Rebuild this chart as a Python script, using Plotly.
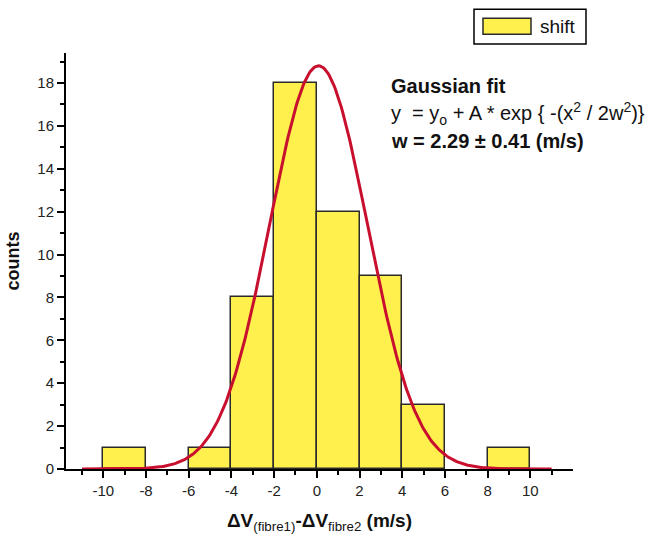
import numpy as np
import plotly.graph_objects as go

# ---- data ----
bin_centers = [-9, -5, -3, -1, 1, 3, 5, 9]
bin_counts = [1, 1, 8, 18, 12, 9, 3, 1]
bin_width = 2

# Gaussian fit parameters (y = y0 + A*exp(-(x-xc)^2 / 2w^2))
fit_y0 = 0.0
fit_A = 18.8
fit_xc = 0.08
fit_w = 2.29
fit_x_min, fit_x_max = -11, 11

x_major = [-10, -8, -6, -4, -2, 0, 2, 4, 6, 8, 10]
x_major_text = ["-10", "-8", "-6", "-4", "-2", "0", "2", "4", "6", "8", "10"]
x_minor = [-11, -9, -7, -5, -3, -1, 1, 3, 5, 7, 9, 11]
y_major = [0, 2, 4, 6, 8, 10, 12, 14, 16, 18]
y_minor = [1, 3, 5, 7, 9, 11, 13, 15, 17, 19]

# ---- layout geometry (window pixels) ----
W, H = 669, 540
ML, MT = 66, 53
PLOT_R, PLOT_B = 573, 472
MR, MB = W - PLOT_R, H - PLOT_B
PW, PH = W - ML - MR, H - MT - MB


def px(xp):
    return (xp - ML) / PW


def py(yp):
    return (PLOT_B - yp) / PH


fit_x = np.linspace(fit_x_min, fit_x_max, 400)
fit_y = fit_y0 + fit_A * np.exp(-((fit_x - fit_xc) ** 2) / (2 * fit_w ** 2))

fig = go.Figure()
fig.add_trace(go.Bar(
    x=bin_centers, y=bin_counts, width=bin_width, name="shift",
    marker=dict(color="#FFF04D", line=dict(color="#2a2a2a", width=1.5)),
    showlegend=False,
))
fig.add_trace(go.Scatter(
    x=fit_x, y=fit_y, mode="lines", line=dict(color="#C8102E", width=3),
    showlegend=False, hoverinfo="skip",
))

font_family = "Liberation Sans, Arial, sans-serif"
axis_common = dict(
    showline=True, linecolor="black", linewidth=2,
    ticks="outside", ticklen=7, tickwidth=1.5, tickcolor="black",
    showgrid=False, zeroline=False,
    tickfont=dict(family=font_family, size=15, color="#222"),
)

fig.update_xaxes(
    range=[-11.75, 12.0], tickmode="array", tickvals=x_major, ticktext=x_major_text,
    minor=dict(tickmode="array", tickvals=x_minor, ticklen=4, tickwidth=1.5, tickcolor="black"),
    title=dict(
        text="<b>ΔV</b><sub>(fibre1)</sub><b>-ΔV</b><sub>fibre2</sub><b> (m/s)</b>",
        font=dict(family=font_family, size=19, color="#111"), standoff=16,
    ),
    **axis_common,
)
fig.update_yaxes(
    range=[0, 19.4], tickmode="array", tickvals=y_major,
    minor=dict(tickmode="array", tickvals=y_minor, ticklen=4, tickwidth=1.5, tickcolor="black"),
    title=dict(text="<b>counts</b>", font=dict(family=font_family, size=18, color="#111"), standoff=13),
    **axis_common,
)

# legend box drawn as decoration
shapes = [
    dict(type="rect", xref="paper", yref="paper", x0=px(474), x1=px(586), y0=py(44), y1=py(9),
         line=dict(color="black", width=1.5), fillcolor="white"),
    dict(type="rect", xref="paper", yref="paper", x0=px(483), x1=px(531), y0=py(34), y1=py(18),
         line=dict(color="#2a2a2a", width=1.5), fillcolor="#FFF04D"),
]
annotations = [
    dict(text="shift", x=px(538), y=py(26), xref="paper", yref="paper", xanchor="left",
         yanchor="middle", showarrow=False, font=dict(family=font_family, size=19, color="#111")),
    dict(text="<b>Gaussian fit</b>", x=px(389), y=py(86), xref="paper", yref="paper",
         xanchor="left", yanchor="middle", showarrow=False,
         font=dict(family=font_family, size=20, color="#111")),
    dict(text="y  = y<sub>o</sub> + A * exp { -(x<sup>2</sup> / 2w<sup>2</sup>)}", x=px(389), y=py(114),
         xref="paper", yref="paper", xanchor="left", yanchor="middle", showarrow=False,
         font=dict(family=font_family, size=20, color="#111")),
    dict(text="<b>w = 2.29 ± 0.41 (m/s)</b>", x=px(389), y=py(142), xref="paper", yref="paper",
         xanchor="left", yanchor="middle", showarrow=False,
         font=dict(family=font_family, size=20, color="#111")),
]

fig.update_layout(
    width=W, height=H, margin=dict(l=ML, r=MR, t=MT, b=MB),
    plot_bgcolor="white", paper_bgcolor="white",
    bargap=0, shapes=shapes, annotations=annotations,
    font=dict(family=font_family),
)

fig.write_html(
    "out.html",
    config={"displayModeBar": False},
    post_script="document.body.style.margin='0';document.body.style.overflow='hidden';",
)
